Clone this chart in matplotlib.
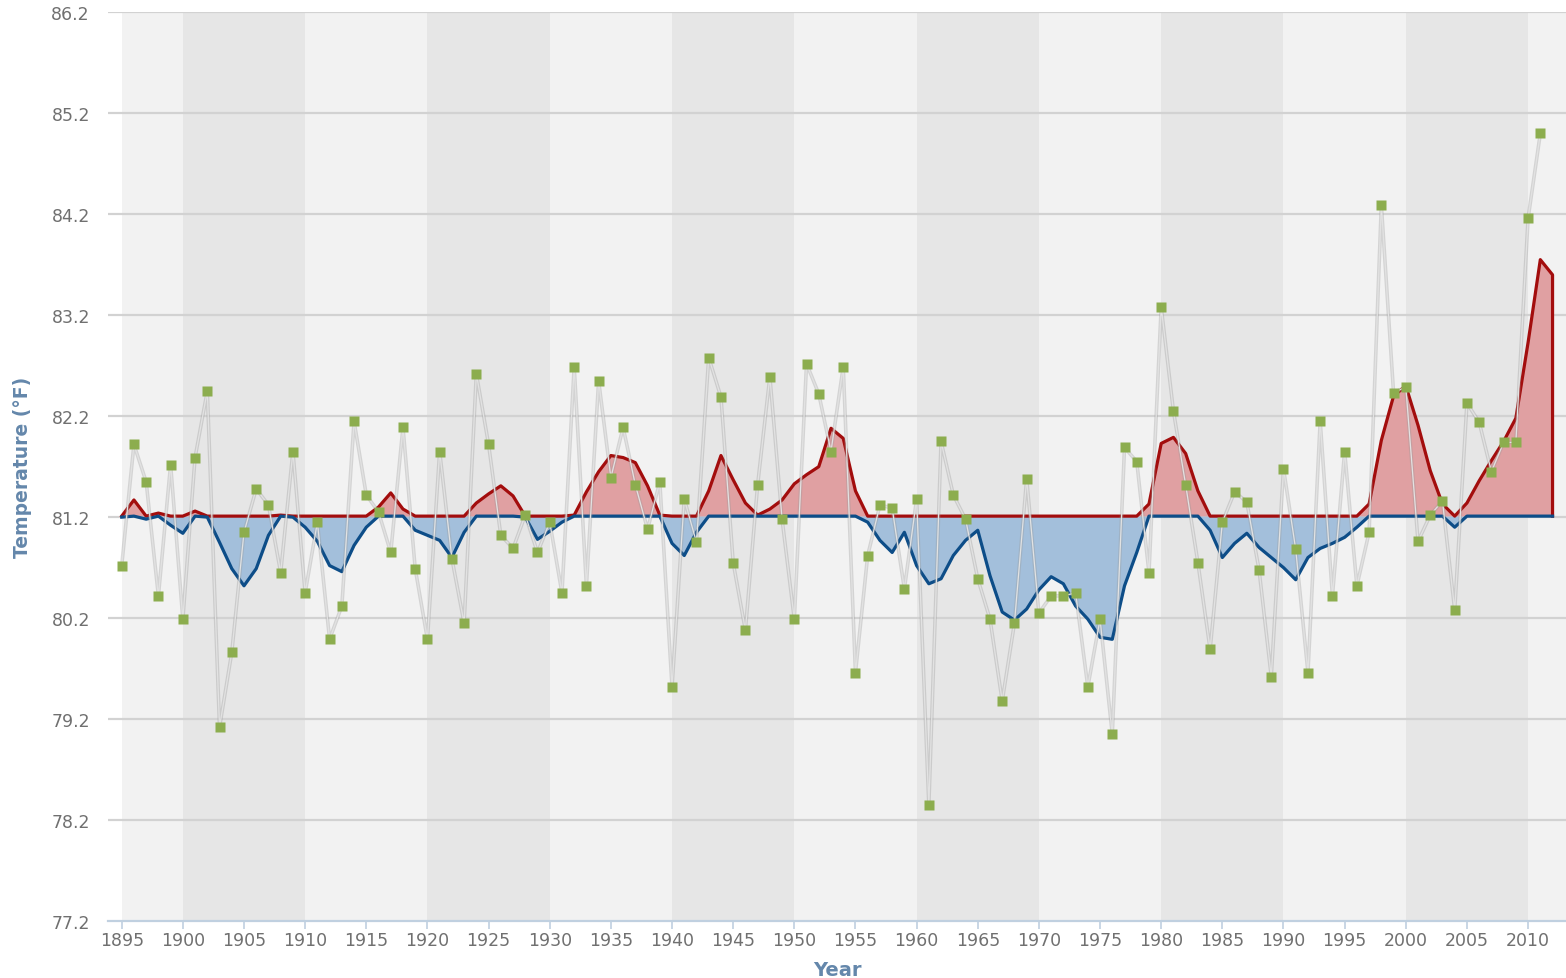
import numpy as np
import matplotlib
matplotlib.use('Agg')
import matplotlib.pyplot as plt

matplotlib.rcParams.update({'font.family': 'DejaVu Sans'})

# yearly values, 1895-2011
years = np.arange(1895, 2012)
temps = [80.72, 81.92, 81.55, 80.42, 81.72, 80.19, 81.79, 82.45, 79.12, 79.86,
         81.05, 81.48, 81.32, 80.65, 81.85, 80.45, 81.15, 79.99, 80.32, 82.15,
         81.42, 81.25, 80.85, 82.09, 80.69, 79.99, 81.85, 80.79, 80.15, 82.62,
         81.92, 81.02, 80.89, 81.22, 80.85, 81.15, 80.45, 82.69, 80.52, 82.55,
         81.59, 82.09, 81.52, 81.08, 81.55, 79.52, 81.38, 80.95, 82.78, 82.39,
         80.75, 80.08, 81.52, 82.59, 81.18, 80.19, 82.72, 82.42, 81.85, 82.69,
         79.66, 80.82, 81.32, 81.29, 80.49, 81.38, 78.35, 81.95, 81.42, 81.18,
         80.59, 80.19, 79.38, 80.15, 81.58, 80.25, 80.42, 80.42, 80.45, 79.52,
         80.19, 79.05, 81.89, 81.75, 80.65, 83.28, 82.25, 81.52, 80.75, 79.89,
         81.15, 81.45, 81.35, 80.68, 79.62, 81.68, 80.88, 79.66, 82.15, 80.42,
         81.85, 80.52, 81.05, 84.29, 82.43, 82.49, 80.96, 81.22, 81.36, 80.28,
         82.33, 82.14, 81.65, 81.94, 81.94, 84.16, 85.00]

# smoothed trend, 1895-2012
smooth_years = np.arange(1895, 2013)
smooth = [81.20, 81.37, 81.18, 81.24, 81.12, 81.04, 81.26, 81.20, 80.95, 80.69,
          80.52, 80.69, 81.02, 81.22, 81.20, 81.10, 80.96, 80.72, 80.66, 80.92,
          81.10, 81.30, 81.44, 81.28, 81.07, 81.02, 80.97, 80.80, 81.05, 81.34,
          81.43, 81.51, 81.41, 81.20, 80.98, 81.06, 81.15, 81.22, 81.45, 81.65,
          81.81, 81.79, 81.74, 81.51, 81.22, 80.94, 80.82, 81.05, 81.46, 81.81,
          81.57, 81.34, 81.22, 81.28, 81.37, 81.53, 81.62, 81.70, 82.08, 81.98,
          81.46, 81.15, 80.97, 80.85, 81.05, 80.72, 80.54, 80.59, 80.82, 80.97,
          81.07, 80.62, 80.26, 80.18, 80.29, 80.48, 80.61, 80.54, 80.32, 80.19,
          80.01, 79.99, 80.52, 80.85, 81.33, 81.93, 81.99, 81.83, 81.46, 81.07,
          80.80, 80.94, 81.04, 80.90, 80.80, 80.70, 80.58, 80.80, 80.89, 80.94,
          81.00, 81.10, 81.33, 81.96, 82.40, 82.50, 82.11, 81.66, 81.33, 81.10,
          81.34, 81.56, 81.76, 81.95, 82.18, 82.93, 83.75, 83.60]
mean_temp = 81.21

yticks = [77.2, 78.2, 79.2, 80.2, 81.2, 82.2, 83.2, 84.2, 85.2, 86.2]
xticks = np.arange(1895, 2011, 5)

# close the trend area with a vertical edge at the end
sx = np.append(smooth_years, smooth_years[-1])
sy = np.append(smooth, mean_temp)
upper = np.maximum(sy, mean_temp)
lower = np.minimum(sy, mean_temp)

fig = plt.figure(figsize=(15.66, 9.79), dpi=100)
ax = fig.add_axes([108/1566, 57/979, 1 - 108/1566, (922 - 13.3)/979])
ax.set_facecolor('white')

# decade bands
ax.axvspan(1895, 2014, color='#f2f2f2', lw=0, zorder=0)
for d in range(1900, 2010, 20):
    ax.axvspan(d, d + 10, color='#e6e6e6', lw=0, zorder=0)

for yv in yticks[1:]:
    ax.axhline(yv, color='#d2d2d2', lw=1.6, zorder=0.5)

ax.fill_between(sx, upper, mean_temp, color='#e0a0a2', lw=0, zorder=1)
ax.fill_between(sx, lower, mean_temp, color='#a3bfdb', lw=0, zorder=1)
ax.plot(sx, upper, color='#a30d0d', lw=2.3, zorder=2, solid_joinstyle='round')
ax.plot(sx, lower, color='#0d4d88', lw=2.3, zorder=2.1, solid_joinstyle='round')

# data line: soft grey edge with a light core
ax.plot(years, temps, color='#9a9a9a', lw=2.6, alpha=0.35, zorder=3)
ax.plot(years, temps, color='#e2e2e2', lw=0.9, zorder=3.1)
ax.plot(years, temps, 's', color='#8cad4e', ms=6.5, mec='none', zorder=4)

ax.set_xlim(1893.88, 2013.1)
ax.set_ylim(77.2, 86.2)
ax.set_xticks(xticks)
ax.set_yticks(yticks)
ax.set_yticklabels(['%.1f' % v for v in yticks])
ax.tick_params(axis='x', direction='out', length=6, width=1.2, color='#c0d0e0',
               labelsize=12.5, labelcolor='#707070', pad=1)
ax.tick_params(axis='y', length=0, labelsize=12.5, labelcolor='#707070', pad=13)

for s in ['top', 'right', 'left']:
    ax.spines[s].set_visible(False)
ax.spines['bottom'].set_color('#c0d0e0')
ax.spines['bottom'].set_linewidth(1.6)

ax.set_xlabel('Year', fontsize=14, fontweight='bold', color='#6487ab', labelpad=8)
ax.set_ylabel('Temperature (°F)', fontsize=13.5, fontweight='bold', color='#6487ab',
              labelpad=14)

plt.savefig('out.png', dpi=100)
